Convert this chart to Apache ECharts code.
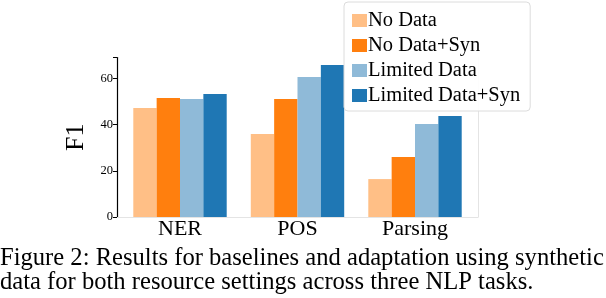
<!DOCTYPE html>
<html>
<head>
<meta charset="utf-8">
<script src="https://cdn.jsdelivr.net/npm/echarts@6/dist/echarts.min.js"></script>
<style>
html,body{margin:0;padding:0;background:#fff;}
#c{width:606px;height:298px;}
</style>
</head>
<body>
<div id="c"></div>
<script>
const categories = ['NER', 'POS', 'Parsing'];
const seriesNames = ['No Data', 'No Data+Syn', 'Limited Data', 'Limited Data+Syn'];
const noData = [47.2, 35.9, 16.4];
const noDataSyn = [51.5, 51.0, 26.0];
const limitedData = [51.0, 60.6, 40.2];
const limitedDataSyn = [53.2, 65.8, 43.7];
const yTicks = [0, 20, 40, 60];
const captionLines = [
  'Figure 2: Results for baselines and adaptation using synthetic',
  'data for both resource settings across three NLP tasks.'
];

const colors = ['#ffbf86', '#ff7f0e', '#8fbad8', '#1f77b4'];
const serif = '"Liberation Serif", "Times New Roman", serif';
const allValues = [noData, noDataSyn, limitedData, limitedDataSyn];

const chart = echarts.init(document.getElementById('c'), null, {renderer: 'canvas'});
const yMax = 69;

chart.setOption({
  animation: false,
  backgroundColor: '#fff',
  color: colors,
  grid: [
    {left: 121.25, width: 352.5, top: 57.5, bottom: 81},
    {left: 117, width: 361, top: 57.5, bottom: 81}
  ],
  xAxis: [
    {gridIndex: 0, type: 'category', data: categories,
     axisLine: {show: false}, axisTick: {show: false},
     axisLabel: {fontFamily: serif, fontSize: 22, color: '#000', margin: 1}},
    {gridIndex: 1, type: 'value', position: 'top', min: 0, max: 1,
     axisLine: {show: true, lineStyle: {color: '#e4e4e4', width: 1}},
     axisTick: {show: false}, axisLabel: {show: false}, splitLine: {show: false}}
  ],
  yAxis: [
    {gridIndex: 0, type: 'value', min: 0, max: yMax, show: false},
    {gridIndex: 1, type: 'value', min: 0, max: yMax, interval: 20,
     axisLine: {show: true, lineStyle: {color: '#000', width: 1.2}},
     axisTick: {show: true, length: 4, lineStyle: {color: '#000'}},
     axisLabel: {fontFamily: serif, fontSize: 12.5, color: '#000', margin: 4,
       formatter: v => yTicks.includes(v) ? String(v) : ''},
     splitLine: {show: false},
     name: 'F1', nameLocation: 'middle', nameRotate: 90, nameGap: 21,
     nameTextStyle: {fontFamily: serif, fontSize: 26, color: '#000'}},
    {gridIndex: 1, type: 'value', position: 'right', min: 0, max: yMax,
     axisLine: {show: true, lineStyle: {color: '#e4e4e4', width: 1}},
     axisTick: {show: false}, axisLabel: {show: false}, splitLine: {show: false}}
  ],
  legend: {
    orient: 'vertical', left: 344, top: 2,
    data: seriesNames, icon: 'rect',
    itemWidth: 15, itemHeight: 13, itemGap: 2,
    padding: [7, 10, 4, 8],
    backgroundColor: 'rgba(255,255,255,0.9)',
    borderColor: '#dcdcdc', borderWidth: 1, borderRadius: 4,
    textStyle: {fontFamily: serif, fontSize: 20.5, lineHeight: 23, color: '#000', padding: [0, 0, 0, -4]}
  },
  title: {
    text: captionLines.join('\n'),
    left: 0, top: 247,
    padding: 0,
    textStyle: {fontFamily: serif, fontSize: 24.6, fontWeight: 'normal', color: '#000', lineHeight: 24}
  },
  series: seriesNames.map((name, i) => ({
    name, type: 'bar', xAxisIndex: 0, yAxisIndex: 0,
    data: allValues[i], barGap: '0%', barCategoryGap: '20.5%',
    itemStyle: {color: colors[i]}
  }))
});
</script>
</body>
</html>
